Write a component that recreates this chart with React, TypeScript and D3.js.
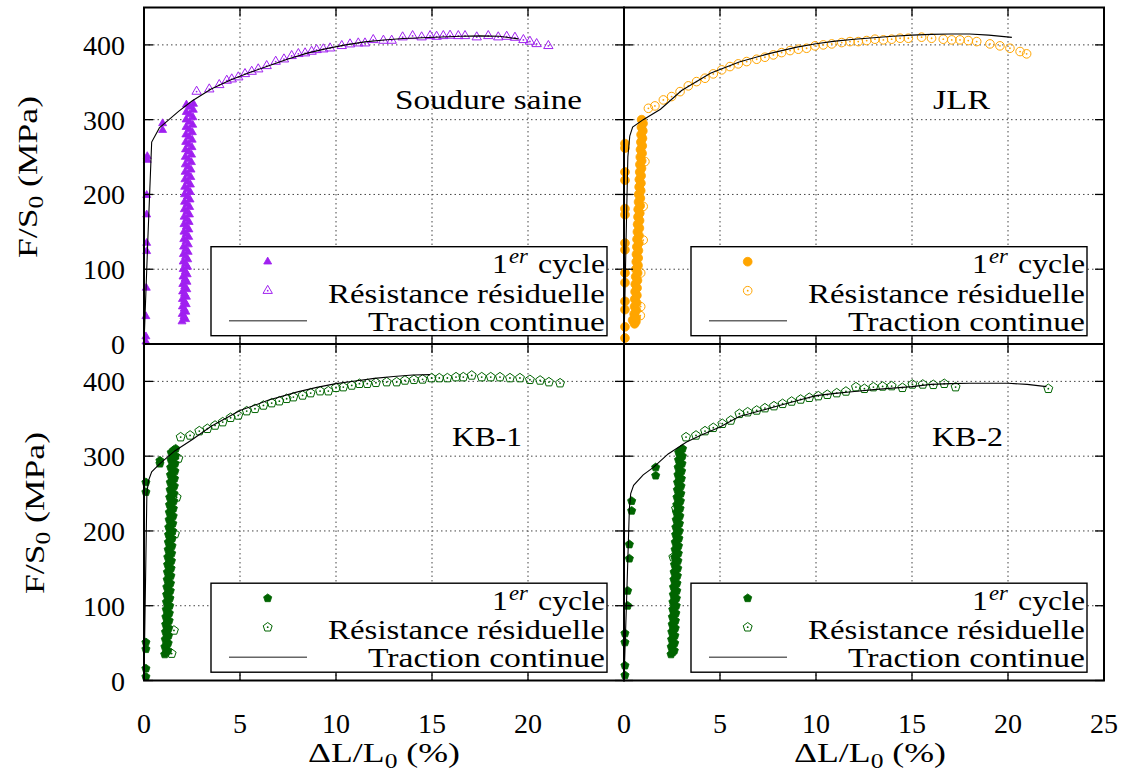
import React from 'react';
import * as d3 from 'd3';

// ---------- tick values ----------
const xTicksLeft = [0, 5, 10, 15, 20];
const xTicksRight = [0, 5, 10, 15, 20, 25];
const xGrid = [5, 10, 15, 20];
const yTicks = [0, 100, 200, 300, 400];
const yGrid = [100, 200, 300, 400];
const xTickMarks = [0, 5, 10, 15, 20, 25];

// ---------- Soudure saine ----------
const ssFirst = [[0.17, 251], [0.17, 246], [0.14, 199], [0.14, 173], [0.14, 135], [0.14, 124], [0.12, 75], [0.1, 37], [0.1, 10], [0.1, 3], [0.97, 295], [0.97, 286]];
const ssBandA = [[1.98, 30], [1.99, 40], [2.0, 50], [2.0, 60], [2.01, 70], [2.02, 80], [2.03, 90], [2.04, 100], [2.04, 110], [2.05, 120], [2.06, 130], [2.07, 140], [2.08, 150], [2.08, 160], [2.09, 170], [2.1, 180], [2.11, 190], [2.11, 200], [2.12, 210], [2.13, 220], [2.14, 230], [2.15, 240], [2.15, 250], [2.16, 260], [2.17, 270], [2.18, 280], [2.19, 290], [2.19, 300], [2.2, 310], [2.21, 320]];
const ssBandB = [[2.17, 33], [2.18, 43], [2.2, 53], [2.21, 63], [2.23, 73], [2.24, 83], [2.25, 93], [2.27, 103], [2.28, 113], [2.3, 123], [2.31, 133], [2.33, 143], [2.34, 153], [2.35, 163], [2.37, 173], [2.38, 183], [2.4, 193], [2.41, 203], [2.42, 213], [2.44, 223], [2.45, 233], [2.47, 243], [2.48, 253], [2.5, 263], [2.51, 273], [2.52, 283], [2.54, 293], [2.55, 303], [2.57, 313], [2.58, 321]];
const ssBandC = [[2.08, 37], [2.09, 47], [2.1, 57], [2.11, 67], [2.12, 77], [2.14, 87], [2.15, 97], [2.16, 107], [2.17, 117], [2.18, 127], [2.19, 137], [2.2, 147], [2.21, 157], [2.22, 167], [2.24, 177], [2.25, 187], [2.26, 197], [2.27, 207], [2.28, 217], [2.29, 227], [2.3, 237], [2.31, 247], [2.32, 257], [2.33, 267], [2.35, 277], [2.36, 287], [2.37, 297], [2.38, 307], [2.39, 317]];
const ssResid = [[2.74, 337.6], [3.4, 340.7], [3.92, 346.5], [4.31, 352.3], [4.57, 354.1], [4.91, 356.8], [5.26, 361.2], [5.61, 364.3], [5.95, 367.5], [6.39, 371.9], [6.86, 377.7], [7.29, 380.8], [7.69, 385.3], [8.04, 388], [8.39, 388.9], [8.73, 391.1], [8.99, 393.3], [9.34, 394.2], [9.69, 395.5], [10.3, 398.7], [10.73, 400.9], [11.16, 402.2], [11.51, 402.2], [11.94, 406.7], [12.47, 405.8], [12.9, 405.8], [13.47, 410.3], [13.99, 412], [14.46, 410.3], [14.9, 412], [15.24, 411.1], [15.59, 412], [15.94, 412.5], [16.37, 412], [16.72, 412], [17.33, 410.3], [17.93, 412], [18.45, 410.3], [18.89, 411.1], [19.32, 409.8], [19.76, 406.7], [20.1, 404.5], [20.45, 401.3], [21.06, 398.7]];
const ssTraction = [[0, 0], [0.2, 140], [0.4, 270], [0.8, 289], [1.3, 300], [1.8, 311], [2.5, 325], [3.5, 341], [4.5, 353], [5.5, 363], [6.5, 372], [7.5, 381], [8.5, 389], [9.5, 395], [10.5, 400], [11.5, 404], [12.5, 406.5], [13.5, 408.5], [14.5, 409.5], [15.5, 410.5], [16.5, 411.5], [17.5, 412], [18.5, 411.5], [19.5, 408]];

// ---------- JLR ----------
const jlrFirst = [[0.05, 268], [0.05, 262], [0.05, 230], [0.05, 219], [0.05, 181], [0.05, 173], [0.05, 135], [0.05, 126], [0.05, 95], [0.05, 82], [0.05, 57], [0.05, 46], [0.05, 23], [0.05, 8], [0.45, 32], [0.55, 27], [0.62, 30]];
const jlrBandA = [[0.52, 30], [0.53, 40], [0.55, 50], [0.56, 60], [0.58, 70], [0.59, 80], [0.61, 90], [0.62, 100], [0.64, 110], [0.65, 120], [0.67, 130], [0.68, 140], [0.7, 150], [0.71, 160], [0.73, 170], [0.74, 180], [0.76, 190], [0.77, 200], [0.79, 210], [0.8, 220], [0.82, 230], [0.83, 240], [0.85, 250], [0.86, 260], [0.88, 270], [0.89, 280], [0.91, 290], [0.92, 300]];
const jlrBandB = [[0.63, 35], [0.64, 45], [0.66, 55], [0.67, 65], [0.68, 75], [0.7, 85], [0.71, 95], [0.73, 105], [0.74, 115], [0.75, 125], [0.77, 135], [0.78, 145], [0.8, 155], [0.81, 165], [0.82, 175], [0.84, 185], [0.85, 195], [0.87, 205], [0.88, 215], [0.89, 225], [0.91, 235], [0.92, 245], [0.94, 255], [0.95, 265], [0.96, 275], [0.98, 285], [0.99, 295]];
const jlrResidBand = [[1.09, 244], [1.0, 184], [1.0, 139], [0.87, 95], [0.87, 50], [0.85, 38]];
const jlrResid = [[1.27, 315.2], [1.61, 318.4], [2.05, 326.4], [2.48, 330.9], [2.92, 337.5], [3.35, 345.2], [3.78, 350.9], [4.22, 355.4], [4.65, 361.2], [5.09, 366.6], [5.52, 371], [5.95, 374.6], [6.39, 377.7], [6.91, 380.8], [7.34, 383.5], [7.78, 386.6], [8.21, 389.7], [8.65, 392.4], [9.08, 394.2], [9.51, 395.5], [9.95, 398.7], [10.38, 400], [10.82, 401.3], [11.34, 403.1], [11.77, 404.4], [12.2, 404.4], [12.64, 405.8], [13.07, 407.6], [13.51, 406.7], [13.94, 407.6], [14.38, 408.9], [14.81, 408.9], [15.5, 410.3], [16.02, 408.9], [16.63, 407.6], [17.07, 406.7], [17.5, 406.7], [17.93, 405.8], [18.37, 404.4], [19.06, 401.3], [19.58, 398.7], [20.1, 395.5], [20.63, 391.1], [20.97, 388]];
const jlrTraction = [[0, 0], [0.1, 130], [0.2, 250], [0.3, 278], [0.45, 290], [1.0, 300], [1.9, 314], [3, 339], [4.5, 362], [6, 377], [7.5, 388], [9, 397], [10, 401.5], [11, 405], [12, 407.5], [13, 409.5], [14, 411.5], [15, 413], [16, 414], [17, 414.5], [18, 414.5], [19, 413], [20.2, 410]];

// ---------- KB-1 ----------
const kb1First = [[0.1, 265], [0.1, 252], [0.1, 51], [0.1, 42], [0.1, 16], [0.1, 5], [0.83, 294], [0.83, 290]];
const kb1BandA = [[1.08, 35], [1.09, 45], [1.11, 55], [1.12, 65], [1.13, 75], [1.14, 85], [1.16, 95], [1.17, 105], [1.18, 115], [1.19, 125], [1.21, 135], [1.22, 145], [1.23, 155], [1.24, 165], [1.26, 175], [1.27, 185], [1.28, 195], [1.29, 205], [1.31, 215], [1.32, 225], [1.33, 235], [1.34, 245], [1.36, 255], [1.37, 265], [1.38, 275], [1.39, 285], [1.41, 295], [1.42, 305]];
const kb1BandB = [[1.25, 40], [1.26, 50], [1.28, 60], [1.29, 70], [1.31, 80], [1.32, 90], [1.34, 100], [1.35, 110], [1.37, 120], [1.38, 130], [1.4, 140], [1.41, 150], [1.43, 160], [1.44, 170], [1.46, 180], [1.47, 190], [1.49, 200], [1.5, 210], [1.52, 220], [1.53, 230], [1.55, 240], [1.56, 250], [1.58, 260], [1.59, 270], [1.61, 280], [1.62, 290], [1.64, 300], [1.65, 310]];
const kb1BandC = [[1.17, 38], [1.18, 48], [1.2, 58], [1.21, 68], [1.22, 78], [1.23, 88], [1.25, 98], [1.26, 108], [1.28, 118], [1.29, 128], [1.3, 138], [1.32, 148], [1.33, 158], [1.34, 168], [1.36, 178], [1.37, 188], [1.39, 198], [1.4, 208], [1.41, 218], [1.43, 228], [1.44, 238], [1.45, 248], [1.47, 258], [1.48, 268], [1.5, 278], [1.51, 288], [1.52, 298], [1.54, 308]];
const kb1ResidBand = [[1.79, 297], [1.7, 245], [1.61, 196], [1.56, 67], [1.44, 36]];
const kb1Resid = [[1.91, 325.5], [2.4, 327.8], [2.88, 333.6], [3.3, 336.7], [3.7, 341.1], [4.1, 345.6], [4.51, 351.4], [4.91, 354.5], [5.35, 360.3], [5.78, 363.4], [6.22, 367.9], [6.65, 371], [7.05, 373.6], [7.43, 376.8], [7.78, 379], [8.26, 381.3], [8.68, 384.4], [9.17, 387], [9.6, 387], [10.0, 391.5], [10.38, 392.4], [10.82, 394.6], [11.22, 396.9], [11.63, 396.9], [12.08, 398.2], [12.64, 399.1], [13.16, 399.1], [13.59, 401.3], [14.06, 402.2], [14.51, 402.7], [14.98, 404.5], [15.38, 404.5], [15.8, 404.5], [16.25, 405.8], [16.63, 405.8], [17.07, 408], [17.59, 405.8], [18.06, 405.8], [18.54, 405.8], [19.06, 404.5], [19.58, 404.5], [20.1, 402.2], [20.63, 401.3], [21.09, 399.1], [21.67, 397.7]];
const kb1Traction = [[0, 0], [0.15, 250], [0.23, 267], [0.4, 279], [0.83, 290], [1.6, 307], [2.5, 322], [3.5, 340], [5, 361], [6.5, 375], [8, 386], [9, 392], [10, 397], [11, 400.5], [12, 404], [13, 406.5], [14, 408.5], [14.9, 409]];

// ---------- KB-2 ----------
const kb2First = [[0.05, 7], [0.05, 20], [0.05, 51], [0.05, 63], [0.19, 100], [0.19, 120], [0.28, 163], [0.28, 182], [0.4, 227], [0.4, 240], [1.65, 274], [1.65, 285]];
const kb2BandA = [[2.45, 35], [2.46, 45], [2.48, 55], [2.49, 65], [2.51, 75], [2.52, 85], [2.54, 95], [2.55, 105], [2.57, 115], [2.58, 125], [2.6, 135], [2.61, 145], [2.63, 155], [2.64, 165], [2.66, 175], [2.67, 185], [2.69, 195], [2.7, 205], [2.72, 215], [2.73, 225], [2.75, 235], [2.76, 245], [2.78, 255], [2.79, 265], [2.81, 275], [2.82, 285], [2.84, 295], [2.85, 305]];
const kb2BandB = [[2.62, 40], [2.64, 50], [2.65, 60], [2.67, 70], [2.68, 80], [2.7, 90], [2.72, 100], [2.73, 110], [2.75, 120], [2.76, 130], [2.78, 140], [2.8, 150], [2.81, 160], [2.83, 170], [2.84, 180], [2.86, 190], [2.88, 200], [2.89, 210], [2.91, 220], [2.92, 230], [2.94, 240], [2.96, 250], [2.97, 260], [2.99, 270], [3.0, 280], [3.02, 290], [3.04, 300], [3.05, 310]];
const kb2BandC = [[2.54, 38], [2.55, 48], [2.57, 58], [2.58, 68], [2.6, 78], [2.61, 88], [2.63, 98], [2.64, 108], [2.66, 118], [2.67, 128], [2.69, 138], [2.71, 148], [2.72, 158], [2.74, 168], [2.75, 178], [2.77, 188], [2.78, 198], [2.8, 208], [2.81, 218], [2.83, 228], [2.84, 238], [2.86, 248], [2.87, 258], [2.89, 268], [2.9, 278], [2.92, 288], [2.94, 298], [2.95, 308]];
const kb2ResidBand = [[2.71, 230], [2.57, 165]];
const kb2Resid = [[3.23, 325.5], [3.75, 327.8], [4.22, 333.6], [4.65, 338], [5.12, 343.4], [5.56, 347.8], [6.01, 356.7], [6.44, 358.9], [6.91, 361.2], [7.34, 364.3], [7.81, 367], [8.26, 370.1], [8.73, 373.2], [9.2, 375.9], [9.65, 378.2], [10.12, 380.4], [10.59, 382.2], [11.08, 384.4], [11.56, 386.6], [12.08, 392.4], [12.52, 390.2], [12.99, 392.4], [13.47, 393.3], [13.94, 393.8], [14.5, 391.5], [15.02, 396], [15.56, 396], [16.11, 395.5], [16.68, 396.9], [17.27, 392.4], [22.1, 390.2]];
const kb2Traction = [[0, 0], [0.15, 120], [0.28, 230], [0.35, 250], [0.5, 261], [1.0, 275], [1.53, 285], [2.3, 303], [3.26, 319], [4, 328], [5, 339], [6, 353], [7, 360], [8, 367], [9, 374], [10, 381], [11, 384], [12, 386.5], [13, 389], [14, 391], [15, 393], [16, 396], [17, 397], [18, 397.5], [19, 397.5], [20, 397.5], [21, 396], [22, 393]];

// ---------- legend / labels ----------
const legendFirst = '1';
const legendFirstSup = 'er';
const legendFirstRest = ' cycle';
const legendResid = 'Résistance résiduelle';
const legendTraction = 'Traction continue';

const PURPLE = '#A020F0';
const ORANGE = '#FFA500';
const GREEN = '#006400';
const FONT = "'Liberation Serif', 'Times New Roman', serif";

const panels = [
  { name: 'Soudure saine', col: 0, row: 0, color: PURPLE, shape: 'tri', first: [...ssFirst, ...ssBandA, ...ssBandB, ...ssBandC], resid: ssResid, trac: ssTraction, labelEnd: 582, labelLen: 187 },
  { name: 'JLR', col: 1, row: 0, color: ORANGE, shape: 'circ', first: [...jlrFirst, ...jlrBandA, ...jlrBandB], resid: [...jlrResidBand, ...jlrResid], trac: jlrTraction, labelEnd: 990, labelLen: 57 },
  { name: 'KB-1', col: 0, row: 1, color: GREEN, shape: 'pent', first: [...kb1First, ...kb1BandA, ...kb1BandB, ...kb1BandC], resid: [...kb1ResidBand, ...kb1Resid], trac: kb1Traction, labelEnd: 522, labelLen: 70 },
  { name: 'KB-2', col: 1, row: 1, color: GREEN, shape: 'pent', first: [...kb2First, ...kb2BandA, ...kb2BandB, ...kb2BandC], resid: [...kb2ResidBand, ...kb2Resid], trac: kb2Traction, labelEnd: 1003, labelLen: 71 },
];

const COL_X = [144, 624];
const PANEL_W = 480;
const ROW_Y = [{ top: 7.5, bottom: 344 }, { top: 344, bottom: 680.5 }];

function shapePath(shape: string, filled: boolean): string {
  if (shape === 'tri') {
    const r = filled ? 4.6 : 5.4;
    const c = Math.cos(Math.PI / 6) * r;
    return `M0,${-r}L${c},${r / 2}L${-c},${r / 2}Z`;
  }
  if (shape === 'circ') {
    const r = filled ? 4.4 : 4.3;
    return `M${r},0A${r},${r} 0 1,1 ${-r},0A${r},${r} 0 1,1 ${r},0Z`;
  }
  const r = filled ? 4.3 : 4.7;
  const pts = d3.range(5).map((i) => {
    const a = -Math.PI / 2 + (i * 2 * Math.PI) / 5;
    return [r * Math.cos(a), r * Math.sin(a)];
  });
  return 'M' + pts.map((p) => p[0].toFixed(2) + ',' + p[1].toFixed(2)).join('L') + 'Z';
}

function Marker({ x, y, shape, filled, color }: any) {
  const d = shapePath(shape, filled);
  if (filled) return <path transform={`translate(${x},${y})`} d={d} fill={color} stroke={color} strokeWidth={0.8} />;
  return (
    <g transform={`translate(${x},${y})`}>
      <path d={d} fill="none" stroke={color} strokeWidth={1} />
      <circle r={0.9} fill={color} />
    </g>
  );
}

function Panel({ p }: any) {
  const x0 = COL_X[p.col];
  const { top, bottom } = ROW_Y[p.row];
  const xs = d3.scaleLinear().domain([0, 25]).range([x0, x0 + PANEL_W]);
  const ys = d3.scaleLinear().domain([0, 450]).range([bottom, top]);
  const line = d3.line<any>().x((d) => xs(d[0])).y((d) => ys(d[1]));
  const lx = x0 + 67;
  const ly = bottom - 97.3;
  const TL = 9;
  return (
    <g>
      {xGrid.map((v) => (
        <line key={'gx' + v} x1={xs(v)} x2={xs(v)} y1={bottom} y2={top} stroke="#444" strokeWidth={1} strokeDasharray="1.5,3" />
      ))}
      {yGrid.map((v) => (
        <line key={'gy' + v} x1={x0} x2={x0 + PANEL_W} y1={ys(v)} y2={ys(v)} stroke="#444" strokeWidth={1} strokeDasharray="1.5,3" />
      ))}
      {p.first.map((d: number[], i: number) => (
        <Marker key={'f' + i} x={xs(d[0])} y={ys(d[1])} shape={p.shape} filled color={p.color} />
      ))}
      {p.resid.map((d: number[], i: number) => (
        <Marker key={'r' + i} x={xs(d[0])} y={ys(d[1])} shape={p.shape} filled={false} color={p.color} />
      ))}
      <path d={line(p.trac) || ''} fill="none" stroke="#000" strokeWidth={1.1} />
      {xTickMarks.map((v) => (
        <g key={'tx' + v}>
          <line x1={xs(v)} x2={xs(v)} y1={bottom} y2={bottom - TL} stroke="#000" strokeWidth={1.3} />
          <line x1={xs(v)} x2={xs(v)} y1={top} y2={top + TL} stroke="#000" strokeWidth={1.3} />
        </g>
      ))}
      {yTicks.map((v) => (
        <g key={'ty' + v}>
          <line x1={x0} x2={x0 + TL} y1={ys(v)} y2={ys(v)} stroke="#000" strokeWidth={1.3} />
          <line x1={x0 + PANEL_W} x2={x0 + PANEL_W - TL} y1={ys(v)} y2={ys(v)} stroke="#000" strokeWidth={1.3} />
        </g>
      ))}
      <text x={p.labelEnd} y={p.row === 0 ? 109 : 446} textAnchor="end" fontFamily={FONT} fontSize={28} textLength={p.labelLen} lengthAdjust="spacingAndGlyphs">
        {p.name}
      </text>
      <rect x={lx} y={ly} width={396} height={89} fill="#fff" stroke="#000" strokeWidth={1.4} />
      <Marker x={lx + 56.7} y={ly + 15} shape={p.shape} filled color={p.color} />
      <Marker x={lx + 56.7} y={ly + 44} shape={p.shape} filled={false} color={p.color} />
      <line x1={lx + 18} x2={lx + 96} y1={ly + 74} y2={ly + 74} stroke="#666" strokeWidth={1.6} />
      <text x={lx + 394} y={ly + 26.5} textAnchor="end" fontFamily={FONT} fontSize={28} textLength={113} lengthAdjust="spacingAndGlyphs">
        <tspan>{legendFirst}</tspan>
        <tspan dy={-10} fontSize={20} fontStyle="italic" dx={1}>{legendFirstSup}</tspan>
        <tspan dy={10} dx={2}>{legendFirstRest}</tspan>
      </text>
      <text x={lx + 394} y={ly + 56} textAnchor="end" fontFamily={FONT} fontSize={28} textLength={277} lengthAdjust="spacingAndGlyphs">
        {legendResid}
      </text>
      <text x={lx + 394} y={ly + 84} textAnchor="end" fontFamily={FONT} fontSize={28} textLength={237} lengthAdjust="spacingAndGlyphs">
        {legendTraction}
      </text>
      <rect x={x0} y={top} width={PANEL_W} height={bottom - top} fill="none" stroke="#000" strokeWidth={2} />
    </g>
  );
}

export default function App() {
  const ysTop = d3.scaleLinear().domain([0, 450]).range([ROW_Y[0].bottom, ROW_Y[0].top]);
  const ysBot = d3.scaleLinear().domain([0, 450]).range([ROW_Y[1].bottom, ROW_Y[1].top]);
  const xsL = d3.scaleLinear().domain([0, 25]).range([COL_X[0], COL_X[0] + PANEL_W]);
  const xsR = d3.scaleLinear().domain([0, 25]).range([COL_X[1], COL_X[1] + PANEL_W]);
  return (
    <div style={{ position: 'absolute', left: 0, top: 0 }}>
      <svg width={1122} height={774} style={{ display: 'block', background: '#fff' }}>
        <rect x={0} y={0} width={1122} height={774} fill="#fff" />
        {panels.map((p) => (
          <Panel key={p.name} p={p} />
        ))}
        {yTicks.map((v) => (
          <text key={'lt' + v} x={125} y={ysTop(v) + 10} textAnchor="end" fontFamily={FONT} fontSize={28}>{v}</text>
        ))}
        {yTicks.map((v) => (
          <text key={'lb' + v} x={125} y={ysBot(v) + 10} textAnchor="end" fontFamily={FONT} fontSize={28}>{v}</text>
        ))}
        {xTicksLeft.map((v) => (
          <text key={'xl' + v} x={xsL(v)} y={733} textAnchor="middle" fontFamily={FONT} fontSize={28}>{v}</text>
        ))}
        {xTicksRight.map((v) => (
          <text key={'xr' + v} x={xsR(v)} y={733} textAnchor="middle" fontFamily={FONT} fontSize={28}>{v}</text>
        ))}
        {[{ cx: 384 }, { cx: 870 }].map((t, i) => (
          <text key={'xt' + i} x={t.cx} y={762} textAnchor="middle" fontFamily={FONT} fontSize={28} textLength={152} lengthAdjust="spacingAndGlyphs">
            <tspan>ΔL/L</tspan>
            <tspan fontSize={20} dy={6}>0</tspan>
            <tspan dy={-6}> (%)</tspan>
          </text>
        ))}
        {[{ cy: 177, bx: 37 }, { cy: 513, bx: 44 }].map((t, i) => (
          <text key={'yt' + i} transform={`translate(${t.bx},${t.cy}) rotate(-90)`} textAnchor="middle" fontFamily={FONT} fontSize={28} textLength={162} lengthAdjust="spacingAndGlyphs">
            <tspan>F/S</tspan>
            <tspan fontSize={20} dy={6}>0</tspan>
            <tspan dy={-6}> (MPa)</tspan>
          </text>
        ))}
      </svg>
    </div>
  );
}
